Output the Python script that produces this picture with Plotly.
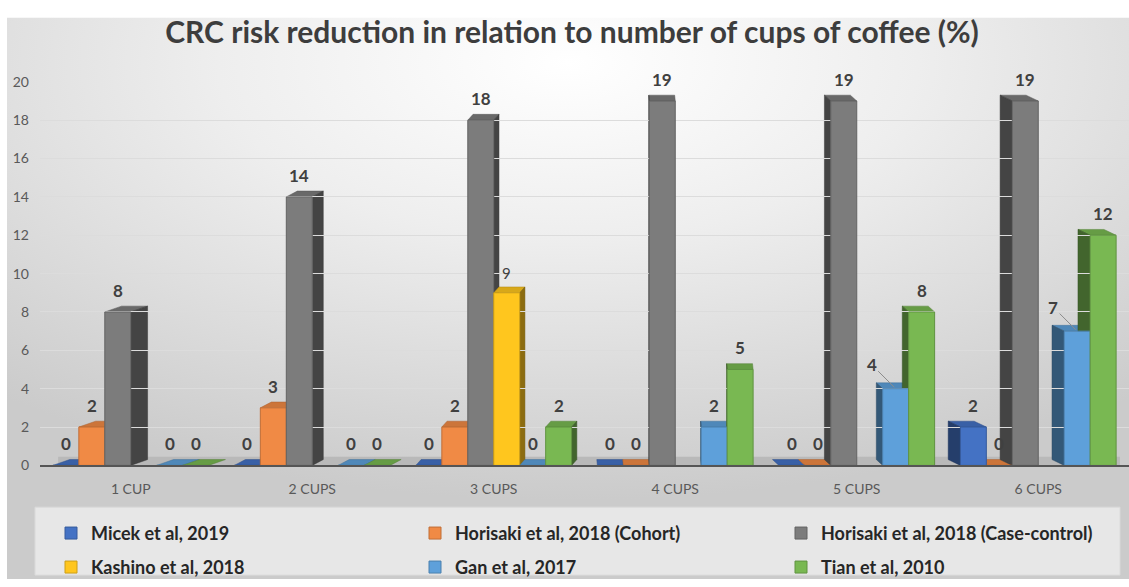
import base64
import plotly.graph_objects as go

# ---------------- data ----------------
categories = ["1 CUP", "2 CUPS", "3 CUPS", "4 CUPS", "5 CUPS", "6 CUPS"]
micek = [0, 0, 0, 0, 0, 2]
horisaki_cohort = [2, 3, 2, 0, 0, 0]
horisaki_case_control = [8, 14, 18, 19, 19, 19]
kashino = [None, None, 9, None, None, None]
gan = [0, 0, 0, 2, 4, 7]
tian = [0, 0, 2, 5, 8, 12]
series_names = [
    "Micek et al, 2019",
    "Horisaki et al, 2018 (Cohort)",
    "Horisaki et al, 2018 (Case-control)",
    "Kashino et al, 2018",
    "Gan et al, 2017",
    "Tian et al, 2010",
]
series_values = [micek, horisaki_cohort, horisaki_case_control, kashino, gan, tian]
y_ticks = list(range(0, 21, 2))
title_text = "CRC risk reduction in relation to number of cups of coffee (%)"
# labels drawn with a small leader line in the original
leader_labels = {("Gan et al, 2017", "5 CUPS"), ("Gan et al, 2017", "6 CUPS")}

# ---------------- style ----------------
W, H = 1129, 587
colors = ["#4472C4", "#F08A45", "#7C7C7C", "#FFC61E", "#5EA0DA", "#79B852"]
FONT = "Lato"
x_dom = [40 / W, 1.0]
y_dom = [(H - 470) / H, (H - 75) / H]
px_per_x = W * (x_dom[1] - x_dom[0]) / len(categories)
px_per_y = H * (y_dom[1] - y_dom[0]) / 20.0
slot = 0.143
x_pos = list(range(len(categories)))


def shade(hexcol, f):
    h = hexcol.lstrip("#")
    r, g, b = (int(h[i:i + 2], 16) for i in (0, 2, 4))
    return "#%02x%02x%02x" % (int(r * f), int(g * f), int(b * f))


# background gradient as an svg image covering the whole page
svg = f"""<svg xmlns='http://www.w3.org/2000/svg' width='{W}' height='{H}' viewBox='0 0 {W} {H}' preserveAspectRatio='none'>
<defs><radialGradient id='g' cx='0.5' cy='0.08' r='0.78'>
<stop offset='0' stop-color='#ffffff'/><stop offset='0.4' stop-color='#eeeeee'/><stop offset='1' stop-color='#cbcbcb'/>
</radialGradient></defs>
<rect width='{W}' height='{H}' fill='#ffffff'/>
<rect x='7' y='9' width='{W-7}' height='{H-9}' fill='url(#g)'/>
</svg>"""
bg_src = "data:image/svg+xml;base64," + base64.b64encode(svg.encode()).decode()

fig = go.Figure()
shapes = []
annotations = []
# floor of the 3-D box
shapes.append(dict(type="rect", xref="x", yref="y", x0=-0.4, x1=5.45, y0=0, y1=0.45,
                   fillcolor="#b9b9b9", line=dict(width=0), layer="below"))

legend_ids = ["legend", "legend2", "legend3", "legend4", "legend5", "legend6"]
legend_text_x = [91, 455, 821, 91, 455, 821]
legend_row_y = [540, 540, 540, 575, 575, 575]

dy_u = 6 / px_per_y
for k, (name, vals, col) in enumerate(zip(series_names, series_values, colors)):
    off = -3 * slot + k * slot
    fig.add_trace(go.Bar(
        x=x_pos, y=vals, name=name, offset=off, width=slot,
        marker=dict(color=col, line=dict(color=shade(col, 0.8), width=1)),
        legend=legend_ids[k], hoverinfo="y+name",
    ))
    for i, v in zip(x_pos, vals):
        if v is None:
            continue
        dx_u = 5.8 * (2.9 - i) / px_per_x
        x0 = i + off
        x1 = x0 + slot
        # pseudo 3-D faces derived from the data
        shapes.append(dict(
            type="path", xref="x", yref="y", layer="below",
            path=f"M{x0},{v} L{x1},{v} L{x1+dx_u},{v+dy_u} L{x0+dx_u},{v+dy_u} Z",
            fillcolor=shade(col, 0.85), line=dict(color=shade(col, 0.7), width=0.5)))
        if v > 0:
            xs = x1 if dx_u > 0 else x0
            shapes.append(dict(
                type="path", xref="x", yref="y", layer="below",
                path=f"M{xs},0 L{xs+dx_u},{dy_u} L{xs+dx_u},{v+dy_u} L{xs},{v} Z",
                fillcolor=shade(col, 0.55), line=dict(color=shade(col, 0.45), width=0.5)))
        # data label
        lab_font = dict(family=FONT, size=17, color="#404040", weight="bold")
        if k == 3:
            lab_font = dict(family=FONT, size=15, color="#404040", weight="normal")
        if (name, categories[i]) in leader_labels:
            annotations.append(dict(
                x=x0 + slot / 2, y=v, xref="x", yref="y", text=str(v),
                showarrow=True, arrowhead=0, arrowwidth=1, arrowcolor="#8c8c8c",
                ax=-24, ay=-24, standoff=2, font=lab_font))
        else:
            annotations.append(dict(
                x=x0 + slot / 2, y=v, xref="x", yref="y", text=str(v),
                showarrow=False, yanchor="bottom", yshift=9, font=lab_font))

# legend box
shapes.append(dict(type="rect", xref="paper", yref="paper",
                   x0=35 / W, x1=1120 / W, y0=(H - 583) / H, y1=(H - 513) / H,
                   fillcolor="#e7e7e7", line=dict(color="#dadada", width=1), layer="below"))

legend_layout = {}
for lid, tx, ty in zip(legend_ids, legend_text_x, legend_row_y):
    legend_layout[lid] = dict(
        orientation="h", bgcolor="rgba(0,0,0,0)", borderwidth=0,
        xanchor="left", yanchor="middle", x=(tx - 40) / W, y=(H - ty) / H,
        font=dict(family=FONT, size=18, color="#262626", weight="bold"),
        itemclick=False, itemdoubleclick=False)

fig.update_layout(
    width=W, height=H,
    margin=dict(l=0, r=0, t=0, b=0),
    paper_bgcolor="#ffffff",
    plot_bgcolor="rgba(0,0,0,0)",
    images=[dict(source=bg_src, xref="paper", yref="paper", x=0, y=1, sizex=1, sizey=1,
                 xanchor="left", yanchor="top", sizing="stretch", layer="below")],
    title=dict(text=title_text, x=572 / W, xanchor="center", y=1 - 32 / H, yanchor="middle",
               font=dict(family=FONT, size=30, color="#3d3d3d", weight="bold")),
    barmode="overlay",
    showlegend=True,
    shapes=shapes,
    annotations=annotations,
    xaxis=dict(domain=x_dom, range=[-0.5, 5.5], tickmode="array", tickvals=x_pos,
               ticktext=categories, showgrid=False, zeroline=False, showline=True,
               linecolor="#555555", linewidth=2, ticks="", ticklabelstandoff=10,
               tickfont=dict(family=FONT, size=14, color="#595959")),
    yaxis=dict(domain=y_dom, range=[0, 20], tickmode="array", tickvals=y_ticks,
               showgrid=True, gridcolor="#dcdcdc", gridwidth=1, zeroline=False,
               showline=False, ticks="", ticklabelstandoff=10,
               tickfont=dict(family=FONT, size=14, color="#595959")),
    font=dict(family=FONT),
    **legend_layout,
)

fig.write_html("out.html")
